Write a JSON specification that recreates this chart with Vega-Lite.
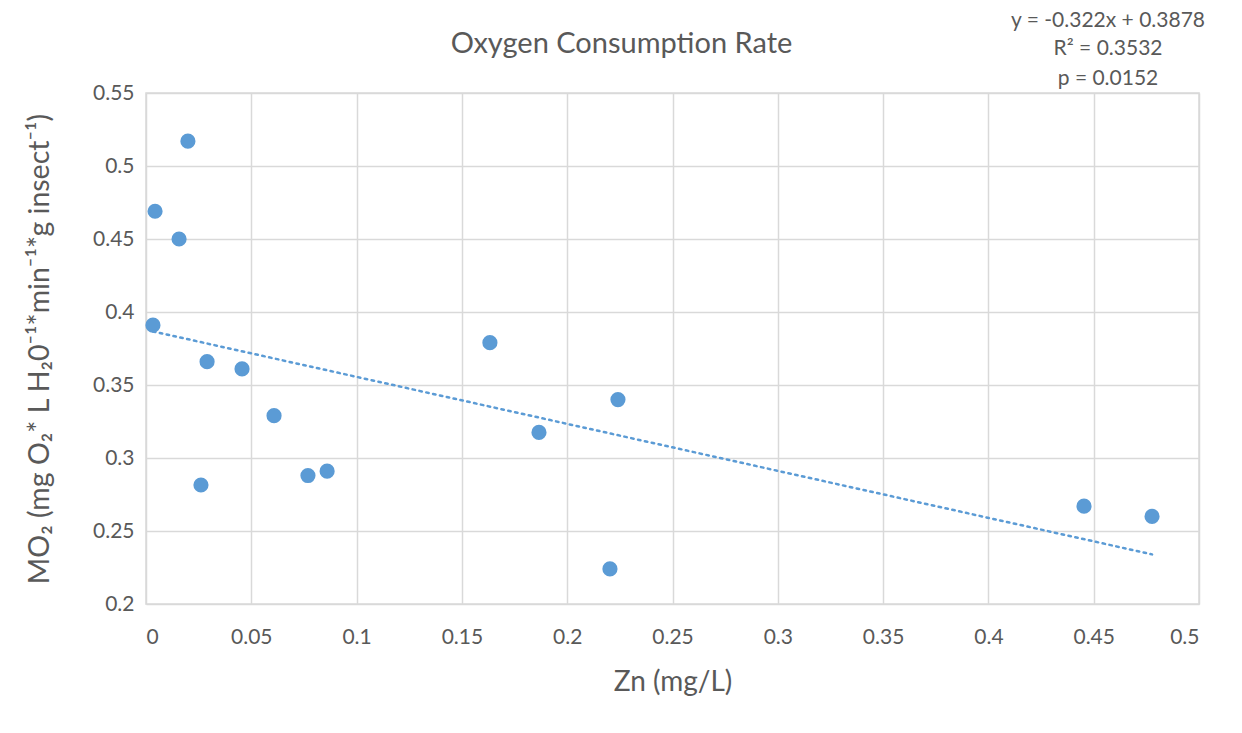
{
  "$schema": "https://vega.github.io/schema/vega-lite/v6.json",
  "width": 1053,
  "height": 511,
  "autosize": {"type": "none"},
  "padding": {"left": 146, "top": 93, "right": 43, "bottom": 129},
  "background": "white",
  "title": {
    "text": "Oxygen Consumption Rate",
    "font": "Lato",
    "fontSize": 29,
    "fontWeight": "normal",
    "color": "#595959",
    "anchor": "middle",
    "dx": -51,
    "offset": -49
  },
  "config": {
    "view": {"stroke": "#d9d9d9", "strokeWidth": 1.5},
    "font": "Lato"
  },
  "datasets": {
    "points": [
      {"zn": 0.0199, "mo2": 0.517},
      {"zn": 0.0043, "mo2": 0.469},
      {"zn": 0.0157, "mo2": 0.450},
      {"zn": 0.0033, "mo2": 0.391},
      {"zn": 0.0290, "mo2": 0.366},
      {"zn": 0.0456, "mo2": 0.361},
      {"zn": 0.0608, "mo2": 0.329},
      {"zn": 0.0261, "mo2": 0.2815},
      {"zn": 0.0769, "mo2": 0.288},
      {"zn": 0.0860, "mo2": 0.291},
      {"zn": 0.1633, "mo2": 0.379},
      {"zn": 0.1866, "mo2": 0.3175},
      {"zn": 0.2241, "mo2": 0.340},
      {"zn": 0.2203, "mo2": 0.224},
      {"zn": 0.4454, "mo2": 0.267},
      {"zn": 0.4777, "mo2": 0.260}
    ],
    "trend": [
      {"zn": 0.0033, "mo2": 0.3867},
      {"zn": 0.4777, "mo2": 0.2340}
    ],
    "eq": [
      {"zn": 0.4568, "mo2": 0.5993, "label": "y = -0.322x + 0.3878"},
      {"zn": 0.4568, "mo2": 0.5801, "label": "R² = 0.3532"},
      {"zn": 0.4568, "mo2": 0.5596, "label": "p = 0.0152"}
    ]
  },
  "layer": [
    {
      "data": {"name": "points"},
      "mark": {"type": "point", "filled": true, "opacity": 1, "size": 230, "color": "#5b9bd5", "shape": "circle"},
      "encoding": {
        "x": {
          "field": "zn", "type": "quantitative",
          "scale": {"domain": [0, 0.5], "nice": false, "zero": false},
          "axis": {
            "title": "Zn (mg/L)",
            "values": [0, 0.05, 0.1, 0.15, 0.2, 0.25, 0.3, 0.35, 0.4, 0.45, 0.5],
            "format": "~g",
            "grid": true, "gridColor": "#d9d9d9", "gridWidth": 1.5,
            "domain": false, "ticks": false,
            "labelFont": "Lato", "labelFontSize": 21, "labelColor": "#595959", "labelPadding": 22,
            "titleFont": "Lato", "titleFontSize": 28, "titleFontWeight": "normal", "titleColor": "#595959", "titlePadding": 21
          }
        },
        "y": {
          "field": "mo2", "type": "quantitative",
          "scale": {"domain": [0.2, 0.55], "nice": false, "zero": false},
          "axis": {
            "title": "MO₂ (mg O₂* L H₂0⁻¹*min⁻¹*g insect⁻¹)",
            "values": [0.2, 0.25, 0.3, 0.35, 0.4, 0.45, 0.5, 0.55],
            "format": "~g",
            "grid": true, "gridColor": "#d9d9d9", "gridWidth": 1.5,
            "domain": false, "ticks": false,
            "labelFont": "Lato", "labelFontSize": 21, "labelColor": "#595959", "labelPadding": 12,
            "titleFont": "Lato", "titleFontSize": 28.5, "titleFontWeight": "normal", "titleColor": "#595959", "titlePadding": 38
          }
        }
      }
    },
    {
      "data": {"name": "trend"},
      "mark": {"type": "line", "color": "#5b9bd5", "strokeWidth": 2.5, "strokeDash": [2.5, 4.5], "strokeCap": "round"},
      "encoding": {
        "x": {"field": "zn", "type": "quantitative"},
        "y": {"field": "mo2", "type": "quantitative"}
      }
    },
    {
      "data": {"name": "eq"},
      "mark": {"type": "text", "font": "Lato", "fontSize": 21, "color": "#595959", "align": "center", "baseline": "middle", "clip": false},
      "encoding": {
        "x": {"field": "zn", "type": "quantitative"},
        "y": {"field": "mo2", "type": "quantitative"},
        "text": {"field": "label", "type": "nominal"}
      }
    }
  ]
}
